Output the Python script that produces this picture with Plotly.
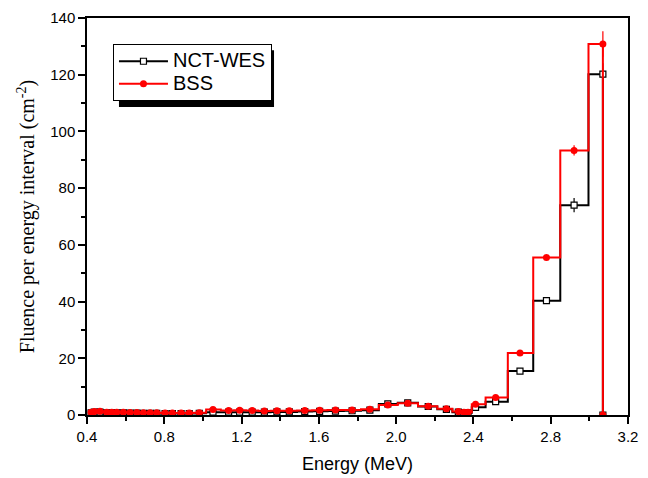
import plotly.graph_objects as go

energy = [0.421, 0.438, 0.467, 0.502, 0.528, 0.554, 0.588, 0.623, 0.658, 0.692,
          0.727, 0.761, 0.804, 0.842, 0.887, 0.929, 0.981, 1.052, 1.133, 1.19,
          1.255, 1.318, 1.383, 1.447, 1.527, 1.604, 1.686, 1.772, 1.864, 1.957,
          2.06, 2.166, 2.26, 2.322, 2.351, 2.372, 2.411, 2.515, 2.641, 2.778,
          2.921, 3.07, 3.07]

bss = [1.0, 1.2, 1.3, 1.0, 1.0, 1.0, 1.0, 0.9, 0.9, 0.8,
       0.8, 0.8, 0.7, 0.7, 0.7, 0.7, 0.8, 1.9, 1.6, 1.7,
       1.6, 1.4, 1.5, 1.5, 1.6, 1.7, 1.8, 1.8, 2.0, 3.5,
       4.1, 3.1, 2.2, 1.2, 1.0, 1.0, 3.8, 6.2, 21.9, 55.5,
       93.3, 130.8, 0.0]

nct = [0.8, 1.0, 1.0, 0.8, 0.8, 0.8, 0.8, 0.7, 0.7, 0.6,
       0.6, 0.6, 0.5, 0.5, 0.5, 0.5, 0.6, 1.0, 1.0, 1.0,
       1.0, 1.0, 1.1, 1.1, 1.2, 1.3, 1.4, 1.5, 1.7, 3.9,
       4.3, 3.0, 2.0, 1.0, 0.8, 0.8, 2.7, 4.7, 15.5, 40.3,
       74.0, 120.2, 0.0]

bss_err = [0]*40 + [1.8, 4.5, 0]
nct_err = [0]*40 + [2.5, 3.8, 0]

names = ["NCT-WES", "BSS"]

def big(s):
    return "<span style='font-size:20px'>" + s + "</span>"

fig = go.Figure()
fig.add_trace(go.Scatter(
    x=energy, y=nct, name=big(names[0]), mode="lines+markers",
    line=dict(color="black", width=2, shape="hvh"),
    marker=dict(symbol="square", size=6, color="white", line=dict(color="black", width=1.2)),
    error_y=dict(type="data", array=nct_err, width=0, thickness=1.2, color="black"),
))
fig.add_trace(go.Scatter(
    x=energy, y=bss, name=big(names[1]), mode="lines+markers",
    line=dict(color="#ff0000", width=2, shape="hvh"),
    marker=dict(symbol="circle", size=7, color="#ff0000"),
    error_y=dict(type="data", array=bss_err, width=0, thickness=1.2, color="#ff0000"),
))

fig.add_shape(type="rect", xref="paper", yref="paper",
              x0=0.0591, x1=0.3457, y0=0.7758, y1=0.919,
              fillcolor="black", line=dict(width=0), layer="above")

fig.update_layout(
    width=648, height=478,
    margin=dict(l=87, r=20, t=18, b=63),
    paper_bgcolor="white", plot_bgcolor="white",
    font=dict(family="Liberation Sans, Arial, sans-serif", color="black"),
    legend=dict(x=0.048, y=0.9345, xanchor="left", yanchor="top",
                bgcolor="white", bordercolor="black", borderwidth=1,
                font=dict(size=15, family="Liberation Sans, Arial, sans-serif"),
                tracegroupgap=0, itemwidth=49),
    showlegend=True,
)
fig.update_xaxes(
    range=[0.4, 3.2], dtick=0.4, tick0=0.4, tickformat=".1f",
    showgrid=False, zeroline=False, automargin=False,
    showline=True, linecolor="black", linewidth=1.5, mirror=True,
    ticks="outside", ticklen=7, tickwidth=1.5, tickcolor="black",
    minor=dict(ticks="outside", ticklen=4, dtick=0.2, tickwidth=1.5, tickcolor="black"),
    tickfont=dict(size=15),
    title=dict(text="Energy (MeV)", font=dict(size=18), standoff=14),
)
fig.update_yaxes(
    range=[0, 140], dtick=20,
    showgrid=False, zeroline=False, automargin=False,
    showline=True, linecolor="black", linewidth=1.5, mirror=True,
    ticks="outside", ticklen=7, tickwidth=1.5, tickcolor="black",
    minor=dict(ticks="outside", ticklen=4, dtick=10, tickwidth=1.5, tickcolor="black"),
    tickfont=dict(size=15),
    title=dict(text="Fluence per energy interval (cm<sup>-2</sup>)",
               font=dict(size=20, family="Liberation Serif, Times New Roman, serif"),
               standoff=10),
)

fig.write_html("out.html", config={"displayModeBar": False},
               post_script="document.body.style.margin='0px';")
